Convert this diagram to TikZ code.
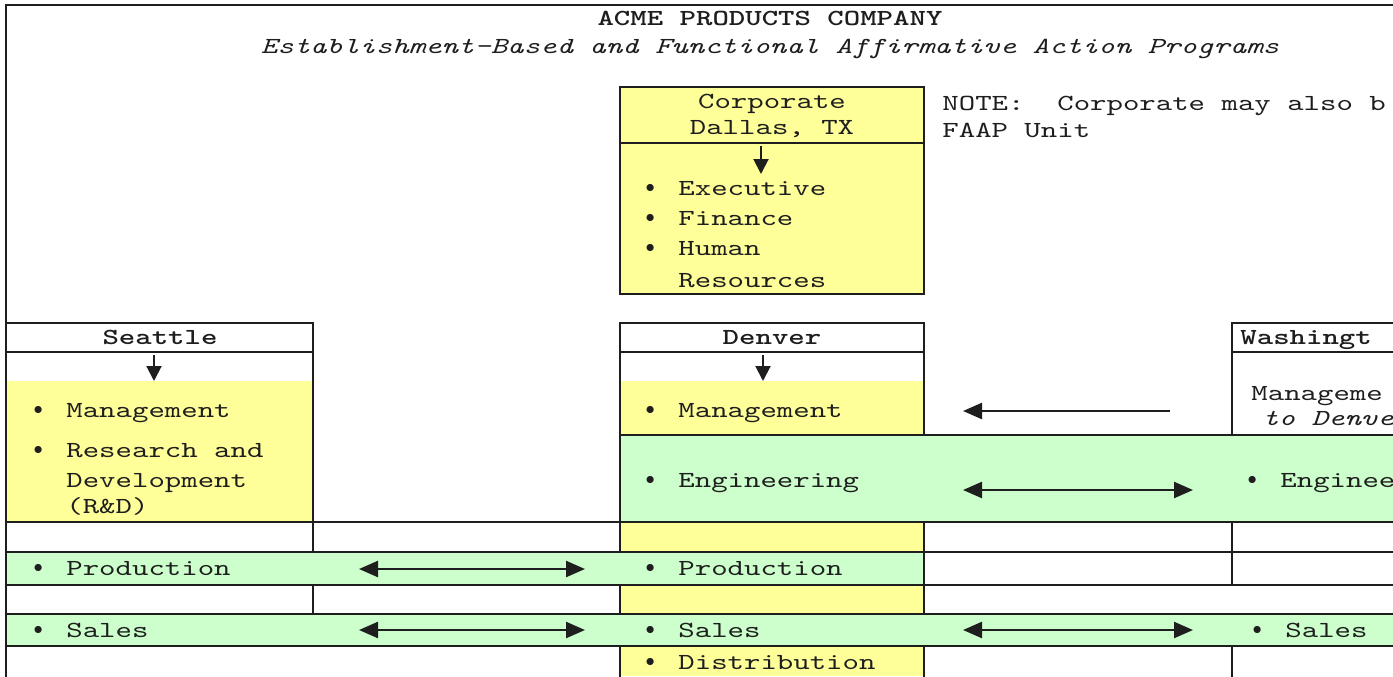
\documentclass[tikz,border=0pt]{standalone}
\usepackage{fontspec}
\usetikzlibrary{arrows.meta}
\newfontfamily\cour{lmmono10-regular}[Extension=.otf, ItalicFont=lmmono10-italic, BoldFont=lmmonolt10-bold, FakeStretch=1.36]
\definecolor{ylw}{HTML}{FFFF99}
\definecolor{grn}{HTML}{CCFFCC}
\definecolor{ink}{HTML}{1E1E1E}
\newcommand{\dfont}{\cour\fontsize{11.5}{15}\selectfont}
\newcommand{\bul}{\llap{\raisebox{1.1pt}{\fontsize{9.5}{9.5}\selectfont$\bullet$}\hspace{11.8pt}}}
\tikzset{
  txt/.style={font=\dfont, inner sep=0pt, anchor=west, text height=7pt, text depth=0pt, text=ink},
  ctxt/.style={txt, anchor=center},
  ln/.style={line width=0.9pt, draw=ink},
  sarr/.style={line width=1.2pt, draw=ink, -{Triangle[length=9.5pt,width=8pt]}},
  darr/.style={line width=1.2pt, draw=ink, {Triangle[length=9.5pt,width=8pt]}-{Triangle[length=9.5pt,width=8pt]}},
  varr/.style={line width=1pt, draw=ink, -{Triangle[length=7.5pt,width=7.5pt]}}
}
\begin{document}
\begin{tikzpicture}[x=0.5pt,y=-0.5pt]
\useasboundingbox (0,0) rectangle (1393,676);
\clip (0,0) rectangle (1393,676);
% fills
\fill[white] (0,0) rectangle (1393,676);
\fill[ylw] (620,87) rectangle (924,294);
\fill[ylw] (6,381) rectangle (313,522);
\fill[ylw] (620,381) rectangle (924,435);
\fill[ylw] (620,522) rectangle (924,676);
\fill[grn] (620,435) rectangle (1400,522);
\fill[grn] (6,552) rectangle (924,585);
\fill[grn] (6,614) rectangle (1400,646);
% frame
\draw[ln] (1400,5) -- (6,5) -- (6,680);
% corporate box
\draw[ln] (620,87) rectangle (924,294);
\draw[ln] (620,143) -- (924,143);
% Seattle
\draw[ln] (6,323) -- (313,323) -- (313,552);
\draw[ln] (6,352) -- (313,352);
% Denver
\draw[ln] (620,552) -- (620,323) -- (924,323) -- (924,435);
\draw[ln] (620,352) -- (924,352);
% Washington
\draw[ln] (1400,323) -- (1232,323) -- (1232,435);
\draw[ln] (1232,352) -- (1400,352);
% grid rows
\draw[ln] (620,435) -- (1400,435);
\foreach \yy in {522,552,585,614,646} \draw[ln] (6,\yy) -- (1400,\yy);
\draw[ln] (313,585) -- (313,614);
\draw[ln] (620,585) -- (620,614);
\draw[ln] (620,646) -- (620,680);
\draw[ln] (924,522) -- (924,614);
\draw[ln] (924,646) -- (924,680);
\draw[ln] (1232,522) -- (1232,585);
\draw[ln] (1232,646) -- (1232,680);
% titles
\node[ctxt, font=\dfont\bfseries] (title) at (770,18) {ACME PRODUCTS COMPANY};
\node[ctxt, font=\dfont\itshape] (subtitle) at (770,46) {Establishment-Based and Functional Affirmative Action Programs};
% corporate
\node[ctxt] (corp1) at (772,101) {Corporate};
\node[ctxt] (corp2) at (772,127) {Dallas, TX};
\coordinate (cA) at (761,146);
\coordinate (cB) at (761,174);
\draw[varr] (cA) -- (cB);
\node[txt] (exec) at (678,188) {\bul Executive};
\node[txt] (fin) at (678,218) {\bul Finance};
\node[txt] (hum) at (678,248) {\bul Human};
\node[txt] (res) at (678,280) {Resources};
\node[txt] (note1) at (942,103) {NOTE:\ \ Corporate may also b};
\node[txt] (note2) at (942,130) {FAAP Unit};
% Seattle
\node[ctxt, font=\dfont\bfseries] (sea) at (160,337) {Seattle};
\coordinate (sA) at (154,355);
\coordinate (sB) at (154,381);
\draw[varr] (sA) -- (sB);
\node[txt] (seaM) at (66,410) {\bul Management};
\node[txt] (seaR1) at (66,450) {\bul Research and};
\node[txt] (seaR2) at (66,480) {Development};
\node[txt] (seaR3) at (66,506) {(R\&D)};
\node[txt] (seaP) at (66,568) {\bul Production};
\node[txt] (seaS) at (66,630) {\bul Sales};
% Denver
\node[ctxt, font=\dfont\bfseries] (den) at (772,337) {Denver};
\coordinate (dA) at (763,355);
\coordinate (dB) at (763,381);
\draw[varr] (dA) -- (dB);
\node[txt] (denM) at (678,410) {\bul Management};
\node[txt] (denE) at (678,480) {\bul Engineering};
\node[txt] (denP) at (678,568) {\bul Production};
\node[txt] (denS) at (678,630) {\bul Sales};
\node[txt] (denD) at (678,662) {\bul Distribution};
% Washington
\node[txt, font=\dfont\bfseries] (was) at (1240,337) {Washingt};
\node[txt] (wasM1) at (1251,393) {Manageme};
\node[txt, font=\dfont\itshape] (wasM2) at (1262,418) {to Denve};
\node[txt] (wasE) at (1280,480) {\bul Enginee};
\node[txt] (wasS) at (1285,630) {\bul Sales};
% connectors
\coordinate (mA) at (1170,411);
\coordinate (mB) at (963,411);
\draw[sarr] (mA) -- (mB);
\coordinate (eA) at (963,490);
\coordinate (eB) at (1193,490);
\draw[darr] (eA) -- (eB);
\coordinate (pA) at (359,569);
\coordinate (pB) at (585,569);
\draw[darr] (pA) -- (pB);
\coordinate (s1A) at (359,630);
\coordinate (s1B) at (585,630);
\draw[darr] (s1A) -- (s1B);
\coordinate (s2A) at (963,630);
\coordinate (s2B) at (1193,630);
\draw[darr] (s2A) -- (s2B);
\end{tikzpicture}
\end{document}
